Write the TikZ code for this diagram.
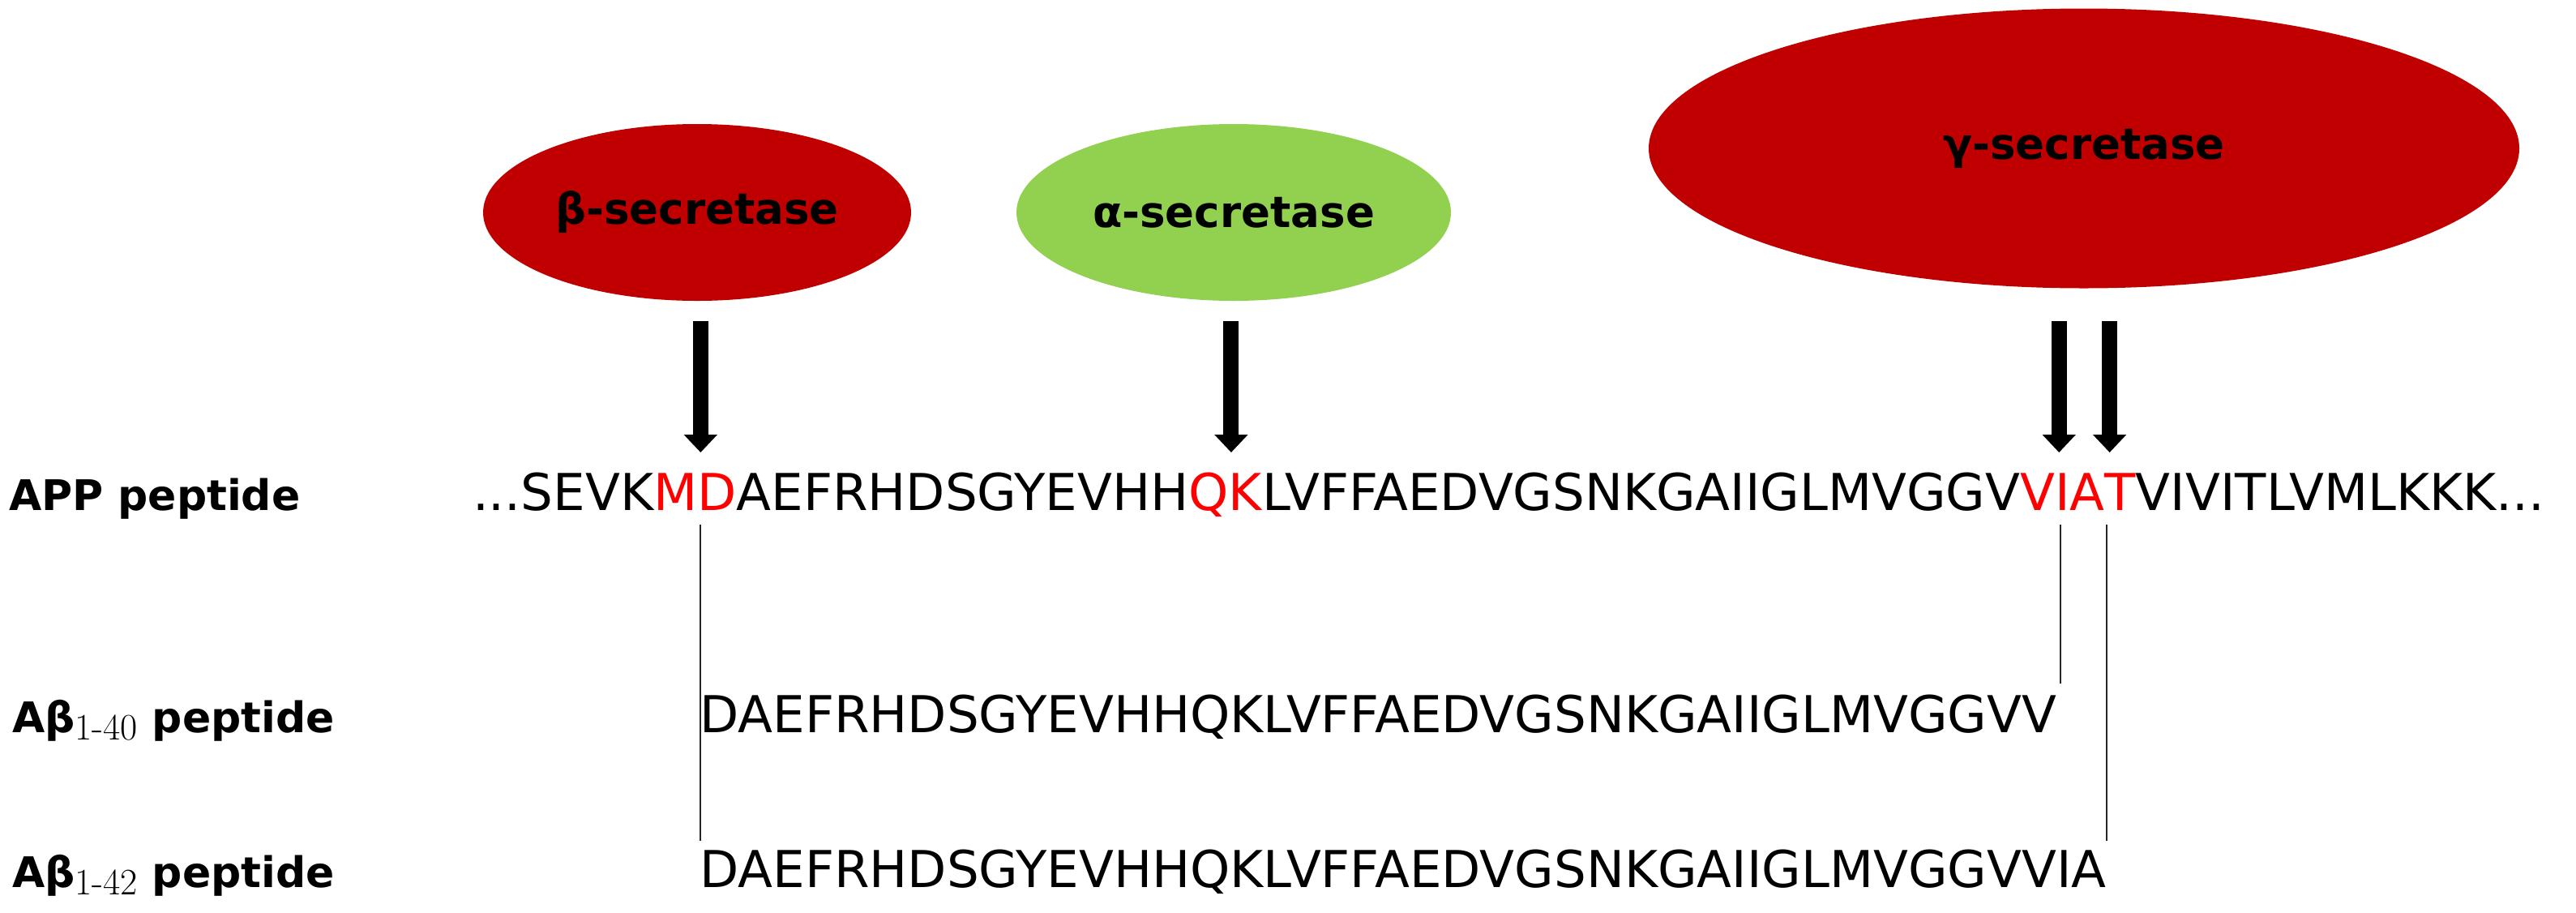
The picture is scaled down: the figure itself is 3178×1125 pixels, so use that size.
\documentclass[tikz,border=0pt]{standalone}
\usepackage{fontspec}
\usetikzlibrary{arrows.meta,shapes.geometric,calc}
\newfontfamily\seqfont{DejaVu Sans}
\newfontfamily\labfont{DejaVu Sans}
\definecolor{enzred}{HTML}{C00000}
\definecolor{enzgreen}{HTML}{92D050}
\definecolor{cutred}{HTML}{FF0000}
\newcommand{\subnum}[1]{\raisebox{-9bp}{\rmfamily\mdseries\fontsize{46bp}{46bp}\selectfont #1}}
\begin{document}
\begin{tikzpicture}[x=1bp,y=-1bp,
  seq/.style={font={\seqfont\fontsize{62.7bp}{75bp}\selectfont}, inner sep=0pt, outer sep=0pt, anchor=base west},
  hl/.style={seq, text=cutred},
  lab/.style={font={\labfont\bfseries\fontsize{52bp}{62bp}\selectfont}, inner sep=0pt, outer sep=0pt, anchor=base west},
  enzyme/.style={ellipse, inner sep=0pt, font={\labfont\bfseries\fontsize{53bp}{62bp}\selectfont}, text=black},
  bigarrow/.style={line width=19bp, -{Triangle[width=40bp,length=22bp]}},
  cutline/.style={line width=2bp, draw=black!85}]
\useasboundingbox (0,0) rectangle (3178,1125);

% enzymes
\node[enzyme, fill=enzred, minimum width=528bp, minimum height=218bp] (beta) at (860,262) {β-secretase};
\node[enzyme, fill=enzgreen, minimum width=536bp, minimum height=218bp] (alpha) at (1522,262) {α-secretase};
\node[enzyme, fill=enzred, minimum width=1074bp, minimum height=345bp] (gamma) at (2571,183) {γ-secretase};

% row labels
\node[lab] (app) at (11,629) {APP peptide};
\node[lab] (ab40) at (15,903) {Aβ\subnum{1-40} peptide};
\node[lab] (ab42) at (15,1094) {Aβ\subnum{1-42} peptide};

% APP sequence
\node[seq] (s0) at (583,629) {...SEVK};
\node[hl] (m) at (s0.base east) {M};
\node[hl] (d) at (m.base east) {D};
\node[seq] (s1) at (d.base east) {AEFRHDSGYEVHH};
\node[hl] (q) at (s1.base east) {Q};
\node[hl] (k) at (q.base east) {K};
\node[seq] (s2) at (k.base east) {LVFFAEDVGSNKGAIIGLMVGGV};
\node[hl] (v) at (s2.base east) {V};
\node[hl] (ia) at (v.base east) {IA};
\node[hl] (t) at (ia.base east) {T};
\node[seq] (s3) at (t.base east) {VIVITLVMLKKK...};

% A-beta sequences
\coordinate (abstart) at ([xshift=3bp]d.base west);
\node[seq] (p40) at (abstart |- ab40.base) {DAEFRHDSGYEVHHQKLVFFAEDVGSNKGAIIGLMVGGVV};
\node[seq] (p42) at (abstart |- ab42.base) {DAEFRHDSGYEVHHQKLVFFAEDVGSNKGAIIGLMVGGVVIA};

% cleavage positions
\coordinate (cb) at ([xshift=4bp]d.base west);
\coordinate (ca) at ([xshift=3bp]k.base west);
\coordinate (cg1) at ([xshift=5bp]ia.base west);
\coordinate (cg2) at ([xshift=6bp]t.base west);
\coordinate (lg1) at ([xshift=7bp]ia.base west);
\coordinate (lg2) at ([xshift=2bp]t.base west);

% arrows
\draw[bigarrow] (cb |- 0,396) -- (cb |- 0,558);
\draw[bigarrow] (ca |- 0,396) -- (ca |- 0,558);
\draw[bigarrow] (cg1 |- 0,396) -- (cg1 |- 0,558);
\draw[bigarrow] (cg2 |- 0,396) -- (cg2 |- 0,558);

% cut lines
\draw[cutline] (cb |- 0,647) -- (cb |- 0,1037);
\draw[cutline] (lg1 |- 0,647) -- (lg1 |- 0,843);
\draw[cutline] (lg2 |- 0,647) -- (lg2 |- 0,1037);
\end{tikzpicture}
\end{document}
